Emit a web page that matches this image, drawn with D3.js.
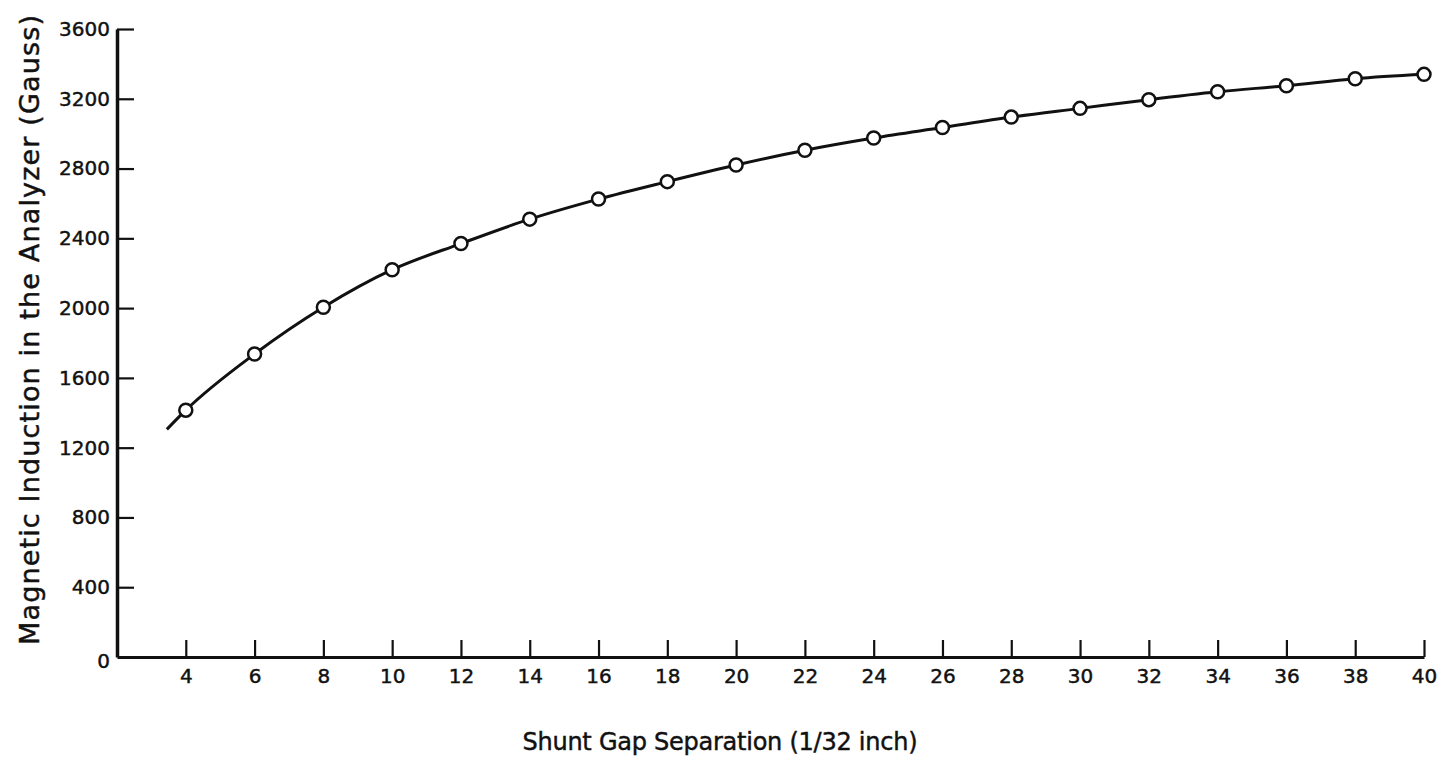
<!DOCTYPE html>
<html>
<head>
<meta charset="utf-8">
<script src="https://cdn.jsdelivr.net/npm/d3@7"></script>
<style>
  body { margin: 0; background: #fff; }
  svg text { font-family: "DejaVu Sans", sans-serif; fill: #111; stroke: #111; stroke-width: 0.45px; }
</style>
</head>
<body>
<div id="chart"></div>
<script>
// measured values (gauss) at each shunt gap (1/32 inch)
var gaps = [4, 6, 8, 10, 12, 14, 16, 18, 20, 22, 24, 26, 28, 30, 32, 34, 36, 38, 40];
var induction = [1415, 1737, 2005, 2220, 2370, 2510, 2625, 2725, 2820, 2905, 2975, 3035, 3095, 3145, 3195, 3240, 3275, 3315, 3340];
// fitted curve starts a little before the first point
var curveStartGap = 3.45;
var curveStartValue = 1305;
var yTicks = [0, 400, 800, 1200, 1600, 2000, 2400, 2800, 3200, 3600];
var xTitle = 'Shunt Gap Separation (1/32 inch)';
var yTitle = 'Magnetic Induction in the Analyzer (Gauss)';

var width = 1445, height = 763;

var svg = d3.select('#chart').append('svg')
  .attr('width', width)
  .attr('height', height);

var x = d3.scaleLinear().domain([2, 40]).range([117, 1424]);
var y = d3.scaleLinear().domain([0, 3600]).range([657, 29]);

// y axis, ticks point inward
var yAxis = svg.append('g')
  .attr('transform', 'translate(' + x(2) + ',0)')
  .call(d3.axisLeft(y).tickValues(yTicks).tickSizeInner(-17).tickSizeOuter(0).tickPadding(7).tickFormat(d3.format('d')));

yAxis.select('.domain').attr('stroke', '#111').attr('stroke-width', 3.5);
yAxis.selectAll('.tick line').attr('stroke', '#111').attr('stroke-width', 2.2);
yAxis.selectAll('.tick text').attr('font-size', 20).attr('font-family', '"DejaVu Sans", sans-serif');
yAxis.selectAll('.tick').filter(function (d) { return d === 0; }).select('line').remove();
yAxis.selectAll('.tick').filter(function (d) { return d === 0; }).select('text').attr('dy', '0.5em');

// x axis, ticks point up
var xAxis = svg.append('g')
  .attr('transform', 'translate(0,' + y(0) + ')')
  .call(d3.axisBottom(x).tickValues(gaps).tickSizeInner(-17).tickSizeOuter(0).tickPadding(12));

xAxis.select('.domain').attr('stroke', '#111').attr('stroke-width', 3);
xAxis.selectAll('.tick line').attr('stroke', '#111').attr('stroke-width', 2.2);
xAxis.selectAll('.tick text').attr('font-size', 20).attr('font-family', '"DejaVu Sans", sans-serif');

// axis titles
svg.append('text')
  .attr('x', 720)
  .attr('y', 750)
  .attr('text-anchor', 'middle')
  .attr('font-size', 24)
  .attr('textLength', 395)
  .attr('lengthAdjust', 'spacing')
  .text(xTitle);

svg.append('text')
  .attr('transform', 'translate(39,330) rotate(-90)')
  .attr('text-anchor', 'middle')
  .attr('font-size', 27)
  .attr('textLength', 630)
  .attr('lengthAdjust', 'spacing')
  .text(yTitle);

// curve
var pts = gaps.map(function (g, i) { return [g, induction[i]]; });
var curvePts = [[curveStartGap, curveStartValue]].concat(pts);

var line = d3.line()
  .x(function (d) { return x(d[0]); })
  .y(function (d) { return y(d[1]); })
  .curve(d3.curveMonotoneX);

svg.append('path')
  .datum(curvePts)
  .attr('fill', 'none')
  .attr('stroke', '#111')
  .attr('stroke-width', 3)
  .attr('d', line);

svg.append('g')
  .selectAll('circle')
  .data(pts)
  .join('circle')
  .attr('cx', function (d) { return x(d[0]); })
  .attr('cy', function (d) { return y(d[1]); })
  .attr('r', 6.5)
  .attr('fill', '#fff')
  .attr('stroke', '#111')
  .attr('stroke-width', 2.5);
</script>
</body>
</html>
